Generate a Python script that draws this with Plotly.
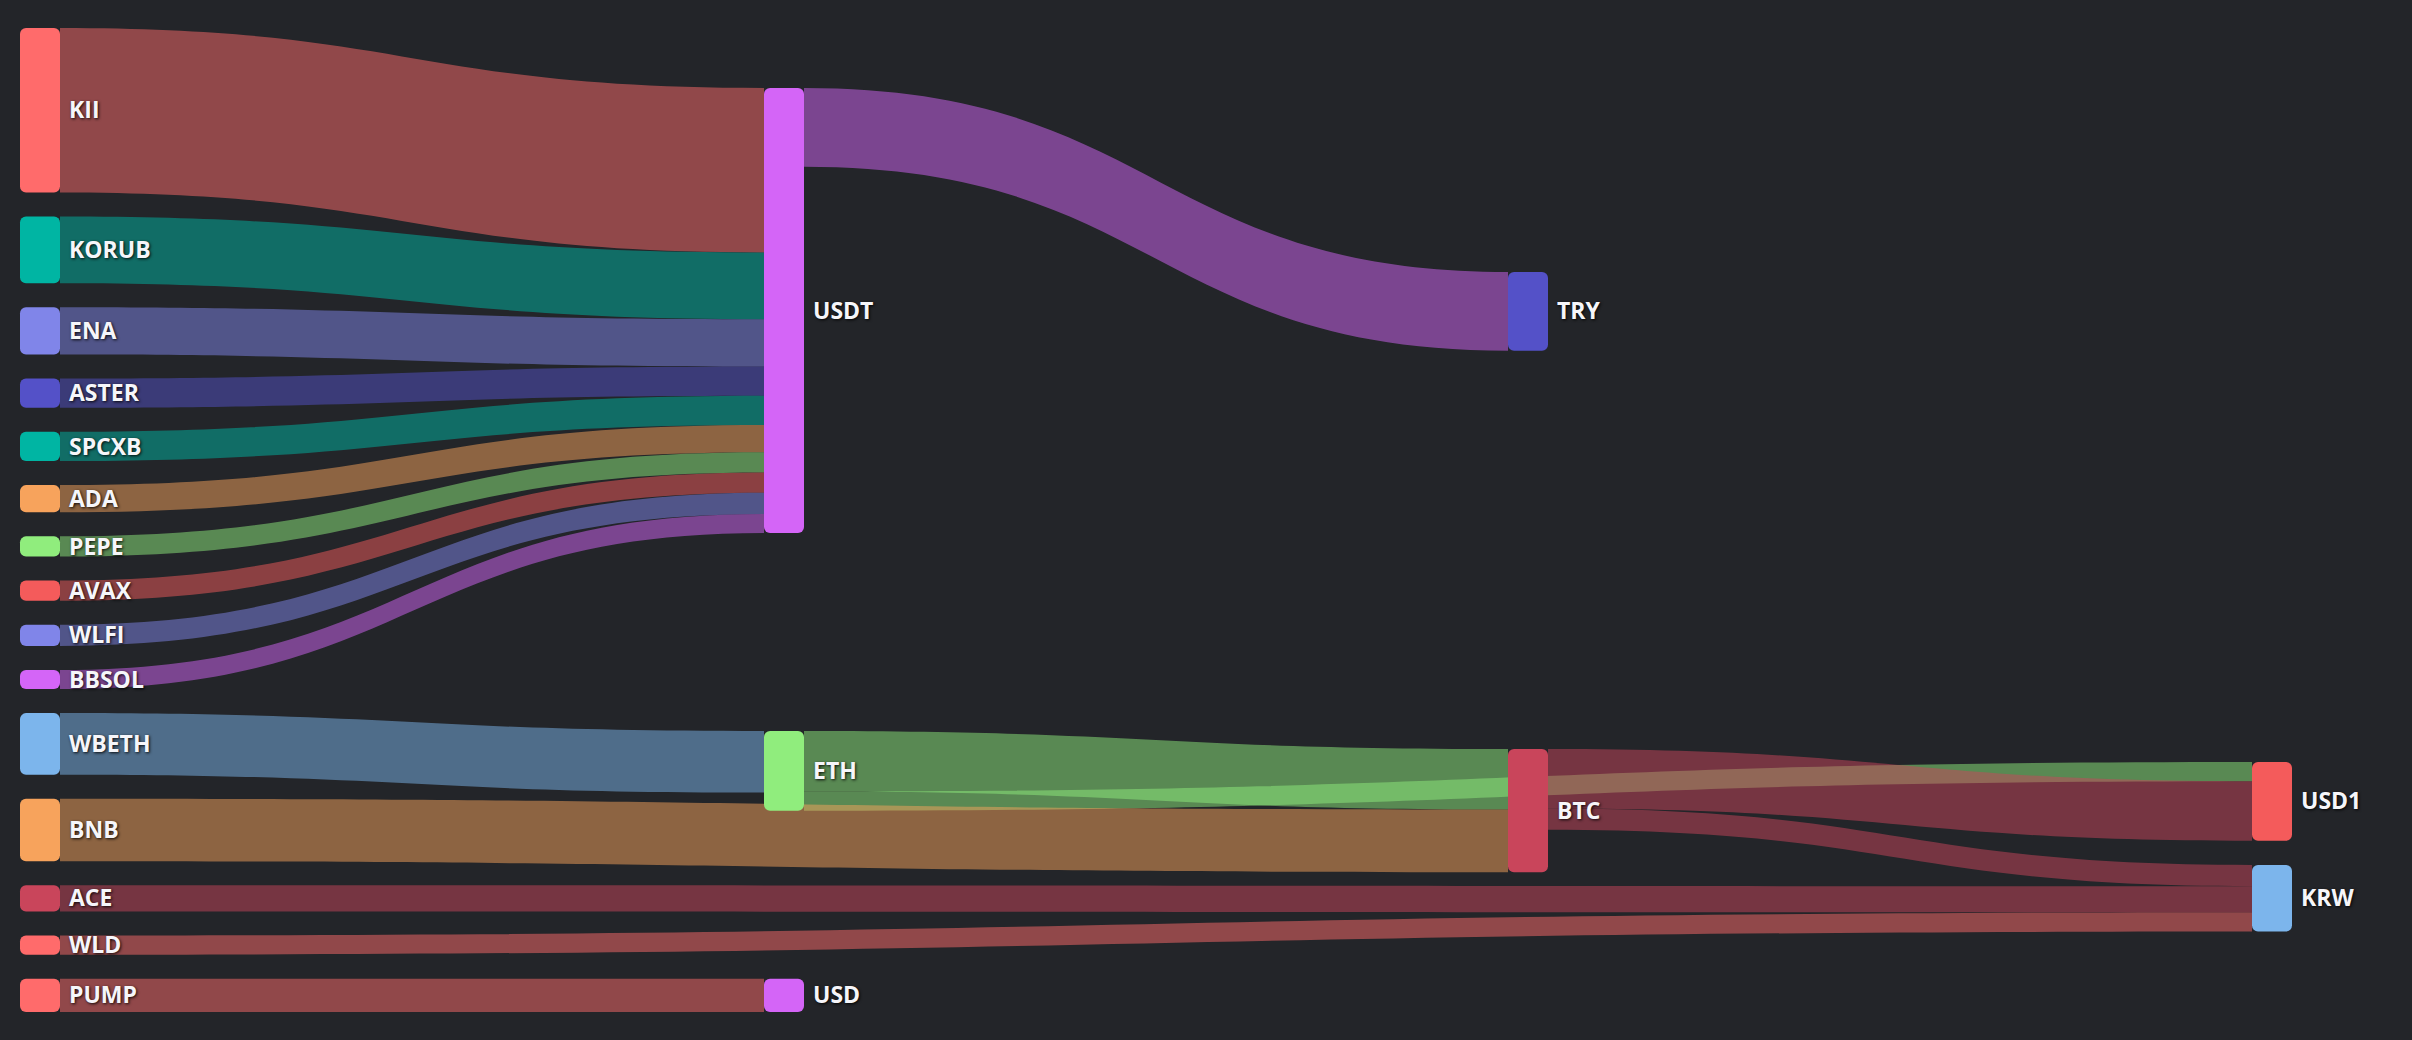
import plotly.graph_objects as go

# ---------------- data ----------------
nodes = ["KII", "KORUB", "ENA", "ASTER", "SPCXB", "ADA", "PEPE", "AVAX", "WLFI", "BBSOL",
         "WBETH", "BNB", "ACE", "WLD", "PUMP",
         "USDT", "ETH", "USD",
         "TRY", "BTC",
         "USD1", "KRW"]

link_source = ["KII", "KORUB", "ENA", "ASTER", "SPCXB", "ADA", "PEPE", "AVAX", "WLFI", "BBSOL",
               "USDT", "WBETH", "ETH", "ETH", "BNB", "BTC", "BTC", "ACE", "WLD", "PUMP"]
link_target = ["USDT", "USDT", "USDT", "USDT", "USDT", "USDT", "USDT", "USDT", "USDT", "USDT",
               "TRY", "ETH", "BTC", "USD1", "BTC", "USD1", "KRW", "KRW", "KRW", "USD"]
link_value = [163, 66, 47, 29, 29, 27, 20, 20, 21, 19,
              78, 61, 60, 19, 62, 59, 21, 26, 19, 33]

# ---------------- style ----------------
node_colors = {
    "KII": "#ff6b6b", "KORUB": "#00b5a3", "ENA": "#8085e9", "ASTER": "#5451c8",
    "SPCXB": "#00b5a3", "ADA": "#f7a35c", "PEPE": "#90ed7d", "AVAX": "#f45b5b",
    "WLFI": "#8085e9", "BBSOL": "#d465f7", "WBETH": "#7cb5ec", "BNB": "#f7a35c",
    "ACE": "#c9455b", "WLD": "#ff6b6b", "PUMP": "#ff6b6b", "USDT": "#d465f7",
    "ETH": "#90ed7d", "USD": "#d465f7", "TRY": "#5451c8", "BTC": "#c9455b",
    "USD1": "#f45b5b", "KRW": "#7cb5ec",
}
BG = "#232529"
W, H_FIG = 2412, 1040
TOP, BOTTOM = 28, 1012          # vertical extent of the diagram (px)
PAD = 24                        # node padding (px)
COL_X = [40, 784, 1528, 2272]   # column centres (px)

node_col = {n: 0 for n in nodes[:15]}
node_col.update({"USDT": 1, "ETH": 1, "USD": 1, "TRY": 2, "BTC": 2, "USD1": 3, "KRW": 3})
# top edges (px) of nodes outside the packed first column (layout hints)
node_top_hint = {"USDT": 88, "ETH": 731, "TRY": 272, "BTC": 749, "USD1": 762, "KRW": 865}


def hex_rgba(h, a):
    h = h.lstrip("#")
    return "rgba(%d,%d,%d,%.2f)" % (int(h[0:2], 16), int(h[2:4], 16), int(h[4:6], 16), a)


# node values = max(in, out)
vin = {n: 0 for n in nodes}
vout = {n: 0 for n in nodes}
for s, t, v in zip(link_source, link_target, link_value):
    vout[s] += v
    vin[t] += v
nval = {n: max(vin[n], vout[n]) for n in nodes}

Hd = BOTTOM - TOP
col0 = [n for n in nodes if node_col[n] == 0]
ky = (Hd - (len(col0) - 1) * PAD) / sum(nval[n] for n in col0)

top = {}
y = TOP
for n in col0:
    top[n] = y
    y += nval[n] * ky + PAD
top.update(node_top_hint)
top["USD"] = top["PUMP"]

xs, ys = [], []
for n in nodes:
    xs.append(COL_X[node_col[n]] / W)
    ys.append((top[n] - TOP + nval[n] * ky / 2) / Hd)

idx = {n: i for i, n in enumerate(nodes)}

# invisible helper node at the far right so the last real column keeps its
# labels on the right-hand side of the nodes (as in the reference)
labels = list(nodes) + [""]
colors = [node_colors[n] for n in nodes] + ["rgba(0,0,0,0)"]
xs.append(0.9995)
ys.append(0.5)
helper = len(nodes)

src = [idx[s] for s in link_source] + [idx["USD1"], idx["KRW"]]
tgt = [idx[t] for t in link_target] + [helper, helper]
val = list(link_value) + [1e-6, 1e-6]
lcol = [hex_rgba(node_colors[s], 0.5) for s in link_source] + ["rgba(0,0,0,0)"] * 2

fig = go.Figure(go.Sankey(
    arrangement="fixed",
    domain=dict(x=[0, 1], y=[1 - BOTTOM / H_FIG, 1 - TOP / H_FIG]),
    node=dict(
        label=labels,
        color=colors,
        x=xs, y=ys,
        pad=PAD, thickness=40,
        line=dict(width=0),
    ),
    link=dict(source=src, target=tgt, value=val, color=lcol),
    textfont=dict(family="Open Sans", size=23, color="#f6f6fa", weight="bold",
                  shadow="1px 1px 3px rgba(0,0,0,0.9)"),
))

fig.update_layout(
    width=W, height=H_FIG,
    margin=dict(l=0, r=0, t=0, b=0),
    paper_bgcolor=BG, plot_bgcolor=BG,
)

post = (
    "document.body.style.margin='0px';"
    "document.body.style.background='%s';"
    "document.querySelectorAll('.sankey-node .node-rect').forEach(function(r){"
    "r.setAttribute('rx','6');r.setAttribute('ry','6');});"
    "document.querySelectorAll('.sankey-node .node-label').forEach(function(t){"
    "t.setAttribute('dx','6');});"
) % BG

fig.write_html("out.html", config={"displayModeBar": False}, post_script=post)
